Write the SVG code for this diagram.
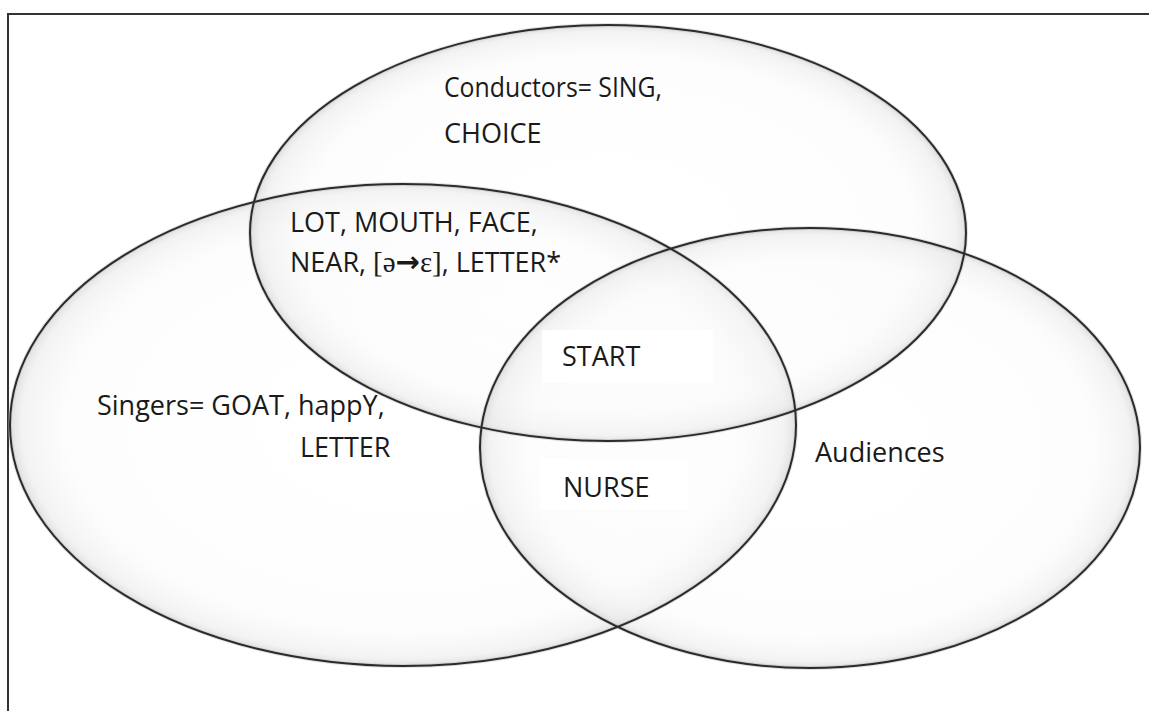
<svg xmlns="http://www.w3.org/2000/svg" width="1149" height="711" viewBox="0 0 1149 711">
  <defs>
    <radialGradient id="shade" cx="50%" cy="50%" r="50%">
      <stop offset="0" stop-color="#ffffff" stop-opacity="0"/>
      <stop offset="0.85" stop-color="#f6f6f6" stop-opacity="0.25"/>
      <stop offset="0.97" stop-color="#e6e6e6" stop-opacity="0.5"/>
      <stop offset="1" stop-color="#d2d2d2" stop-opacity="0.7"/>
    </radialGradient>
    <style>
      .set { fill: url(#shade); stroke: none; }
      .edge { fill: none; stroke: #2b2b2b; stroke-width: 2; }
      .glow { fill: none; stroke: #bdbdbd; stroke-width: 4; stroke-opacity: 0.45; }
      .lbl { font-family: "Open Sans", "Liberation Sans", sans-serif; font-size: 27px; fill: #1a1a1a; }
      .ipa { font-family: "Liberation Serif", "DejaVu Serif", serif; font-size: 29px; }
      .arrow { font-family: "DejaVu Sans", sans-serif; font-weight: bold; font-size: 29px; }
      .frame { fill: none; stroke: #333333; stroke-width: 2; }
    </style>
  </defs>
  <rect x="0" y="0" width="1149" height="711" fill="#ffffff"/>
  <path class="frame" d="M8,711 V14 H1149"/>

  <g id="singers">
    <ellipse class="set" cx="403" cy="425" rx="393" ry="241"/>
  </g>
  <g id="conductors">
    <ellipse class="set" cx="608" cy="233" rx="358" ry="208"/>
  </g>
  <g id="audiences">
    <ellipse class="set" cx="810" cy="448" rx="330" ry="220"/>
  </g>

  <g id="outlines">
    <ellipse class="glow" cx="403" cy="425" rx="393" ry="241"/>
    <ellipse class="glow" cx="608" cy="233" rx="358" ry="208"/>
    <ellipse class="glow" cx="810" cy="448" rx="330" ry="220"/>
    <ellipse class="edge" cx="403" cy="425" rx="393" ry="241"/>
    <ellipse class="edge" cx="608" cy="233" rx="358" ry="208"/>
    <ellipse class="edge" cx="810" cy="448" rx="330" ry="220"/>
  </g>

  <g id="start-box">
    <rect x="542" y="330" width="171" height="53" fill="#ffffff"/>
    <text class="lbl" x="562" y="366">START</text>
  </g>
  <g id="nurse-box">
    <rect x="540" y="458" width="148" height="52" fill="#ffffff"/>
    <text class="lbl" x="563" y="497">NURSE</text>
  </g>

  <g id="conductors-label">
    <text class="lbl" x="444" y="97" textLength="218" lengthAdjust="spacingAndGlyphs">Conductors= SING,</text>
    <text class="lbl" x="444" y="143">CHOICE</text>
  </g>
  <g id="shared-label">
    <text class="lbl" x="290" y="232">LOT, MOUTH, FACE,</text>
    <text class="lbl" x="290" y="272">NEAR, <tspan class="ipa">[ə</tspan><tspan class="arrow">→</tspan><tspan class="ipa">ɛ]</tspan>, LETTER*</text>
  </g>
  <g id="singers-label">
    <text class="lbl" x="97" y="415">Singers= GOAT, happY,</text>
    <text class="lbl" x="300" y="457">LETTER</text>
  </g>
  <g id="audiences-label">
    <text class="lbl" x="815" y="462">Audiences</text>
  </g>
</svg>
